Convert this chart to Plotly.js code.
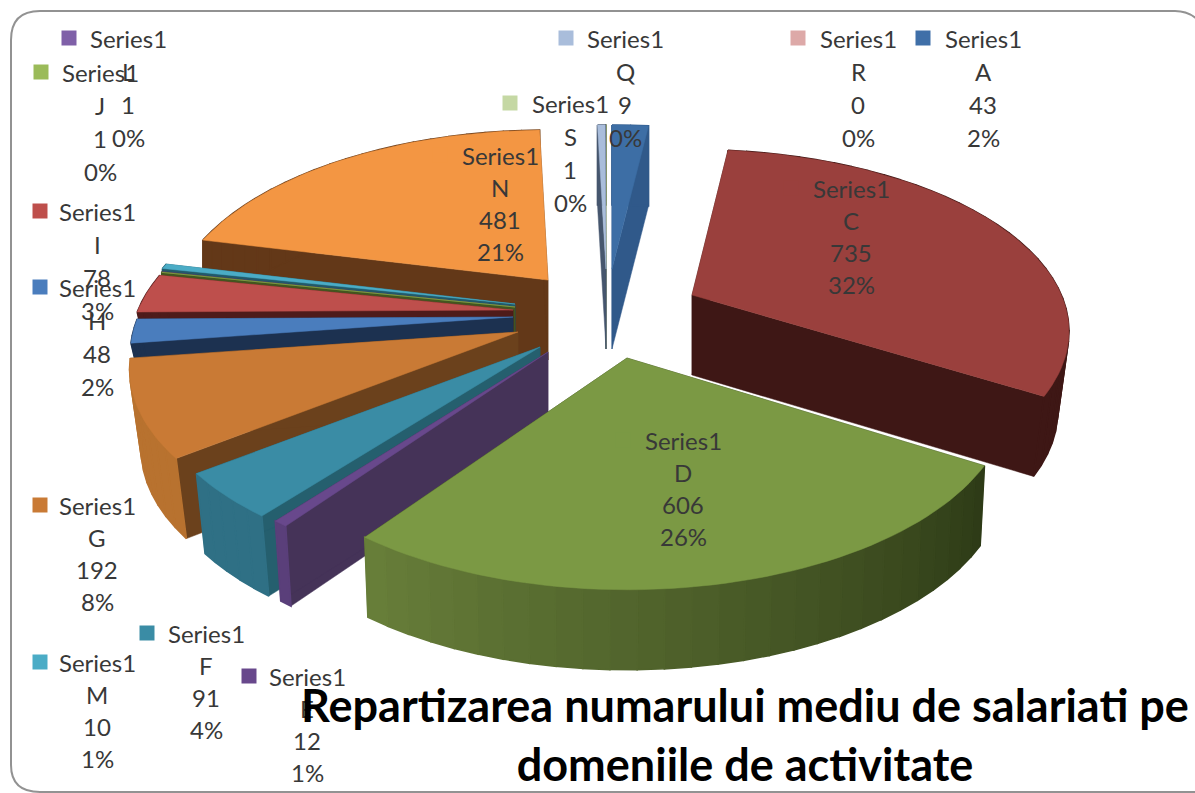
<!DOCTYPE html>
<html>
<head>
<meta charset="utf-8">
<script src="https://cdn.plot.ly/plotly-3.0.1.min.js"></script>
<style>html,body{margin:0;padding:0;background:#fff}#chart{width:1195px;height:793px}</style>
</head>
<body>
<div id="chart"></div>
<script>
// ---- data ----
const seriesName = 'Series1';
const categories = ['A','C','D','E','F','G','H','I','J','L','M','N','Q','R','S'];
const values     = [43,735,606,12,91,192,48,78,1,1,10,481,9,0,1];
const percents   = ['2%','32%','26%','1%','4%','8%','2%','3%','0%','0%','1%','21%','0%','0%','0%'];
const chartTitle = 'Repartizarea numarului mediu de salariati pe<br>domeniile de activitate';

// ---- styles ----
const topColors    = ['#3D6EA5','#9A403D','#7B9944','#68488C','#3A8CA5','#C97A35','#4A7DBD','#BE4F4C','#8FAF4F','#7F60A8','#4BACC6','#F39643','#A9BDDB','#DDA9A8','#C5D8A4'];
const radialColors = ['#30598A','#3E1715','#2F3D17','#453358','#255F6E','#6B411C','#1C3150','#4E1B1A','#43561F','#3A2A52','#215A6A','#633818','#46566E','#6E4544','#5F6E44'];
const rimColorsA   = ['#30598A','#3E1715','#2D3A16','#5A3F7A','#2F7085','#B8722F','#1C3150','#4E1B1A','#43561F','#3A2A52','#215A6A','#633818','#46566E','#6E4544','#5F6E44'];
const rimColorsB   = ['#30598A','#3E1715','#687F3A','#5A3F7A','#2F7085','#B8722F','#1C3150','#4E1B1A','#43561F','#3A2A52','#215A6A','#633818','#46566E','#6E4544','#5F6E44'];
const swatchColors = ['#3F6FA8','#9A403D','#7B9944','#68488C','#3A8CA5','#C97A35','#4A7DBD','#BE4F4C','#9BBB59','#7F60A8','#4BACC6','#F39643','#A9BDDB','#DDA9A8','#C5D8A4'];

// projection of the pie plane
const centre = [605, 312], baseR = 375, baseA = 180, persp = 0.2, depth = 80;
// pull of each slice, px from the pie centre
const pullX = [7,87,22,-57,-65,-87,-92,-92,-90,-90,-90,-57,1,1,1];
const pullY = [-43,-17,46,40,35,20,5,-2,-5,-5,-8,-32,-43,-43,-43];
const radiusScale  = [1,.985,1,1,1.02,1.015,1,1,1,1,1,.99,1,1,1];
const verticalScale= [.96,.97,1.03,1,1,1,1,1,1,1,1,1,.96,.96,.96];
const wallTaper    = [0,.03,.012,.02,.025,.03,.05,.05,0,0,0,0,0,0,0];

// label placement: centre x, first line y, swatch x, swatch y
const labelX = [983,851,683,307,206,97,97,97,100,128,97,500,625,858,570];
const labelY = [38,188,440,676,633,505,287,211,72,38,662,155,38,38,103];
const swatchX = [923,791,623,249,147,40,40,40,41,69,40,440,566,798,510];
const lineGap = [33,32,32,32,32,32,33,33,33,33,32,32,33,33,33];

const total = values.reduce((a,b)=>a+b,0);
let acc = 0;
const slices = values.map((v,i)=>{
  const a0 = acc/total*2*Math.PI; acc += v;
  const a1 = acc/total*2*Math.PI;
  return {i, v, a0, a1, mid:(a0+a1)/2};
}).filter(s=>s.v>0);

function project(s, ang, r, z){
  const u = Math.sin(ang)*r, vv = -Math.cos(ang)*r, w = 1-persp*vv;
  const shrink = 1-wallTaper[s.i]*z/depth;
  return [centre[0]+pullX[s.i]+baseR*radiusScale[s.i]*shrink*u/w,
          centre[1]+pullY[s.i]+baseA*verticalScale[s.i]*vv/w+z];
}
function poly(points, color, lw){
  const xs = points.map(p=>p[0]).concat([points[0][0]]);
  const ys = points.map(p=>p[1]).concat([points[0][1]]);
  return {type:'scatter', mode:'lines', x:xs, y:ys, fill:'toself', fillcolor:color,
          line:{color:color,width:lw}, hoverinfo:'skip', showlegend:false};
}
function hex(c){return [1,3,5].map(i=>parseInt(c.substr(i,2),16));}
function mix(a,b,t){const A=hex(a),B=hex(b);return 'rgb('+A.map((x,i)=>Math.round(x+(B[i]-x)*t)).join(',')+')';}

const traces = [];
slices.slice().sort((p,q)=>(-Math.cos(p.mid))-(-Math.cos(q.mid))).forEach(s=>{
  const i = s.i;
  // side cuts
  [s.a0,s.a1].forEach(a=>{
    traces.push(poly([project(s,a,0,0),project(s,a,1,0),project(s,a,1,depth),project(s,a,0,depth)],radialColors[i],0.5));
  });
  // outer wall
  const segs = Math.max(1,Math.ceil((s.a1-s.a0)/0.06));
  for(let j=0;j<segs;j++){
    const b0=s.a0+(s.a1-s.a0)*j/segs, b1=s.a0+(s.a1-s.a0)*(j+1)/segs;
    traces.push(poly([project(s,b0,1,0),project(s,b1,1,0),project(s,b1,1,depth),project(s,b0,1,depth)],
      mix(rimColorsA[i],rimColorsB[i],(j+.5)/segs),1.6));
  }
  // top face
  const top=[project(s,s.a0,0,0)];
  const n=Math.max(2,Math.ceil((s.a1-s.a0)/0.03));
  for(let j=0;j<=n;j++) top.push(project(s,s.a0+(s.a1-s.a0)*j/n,1,0));
  traces.push(poly(top,topColors[i],0.5));
});

// legend keys beside the data labels
traces.push({type:'scatter',mode:'markers',x:swatchX,y:labelY,hoverinfo:'skip',showlegend:false,
  marker:{symbol:'square',size:15,color:swatchColors,line:{width:0}}});

const annotations=[];
categories.forEach((c,i)=>{
  [seriesName,c,String(values[i]),percents[i]].forEach((t,j)=>{
    annotations.push({xref:'x',yref:'y',x:labelX[i],y:labelY[i]+j*lineGap[i],text:t,showarrow:false,
      xanchor:'center',yanchor:'middle',font:{family:'Lato, sans-serif',size:24,color:'#383838'}});
  });
});

const layout={
  width:1195,height:793,margin:{l:0,r:0,t:0,b:0},paper_bgcolor:'#fff',plot_bgcolor:'#fff',showlegend:false,
  title:{text:chartTitle,x:745/1195,xanchor:'center',xref:'paper',y:1-722/793,yanchor:'top',yref:'paper',
    font:{family:'Lato, sans-serif',size:45,weight:700,color:'#000'}},
  xaxis:{range:[0,1195],visible:false,fixedrange:true},
  yaxis:{range:[793,0],visible:false,fixedrange:true},
  annotations,
  shapes:[{type:'path',xref:'x',yref:'y',layer:'below',
    path:'M 11 40 Q 11 11 40 11 L 1175 11 Q 1190 11 1200 22 L 1200 792 L 40 792 Q 11 792 11 765 Z',
    line:{color:'#929292',width:2},fillcolor:'#ffffff'}]
};
Plotly.newPlot('chart',traces,layout,{displayModeBar:false,staticPlot:true}).then(gd=>{
  // the title sits over the data labels
  const info = gd.querySelector('.infolayer'), t = gd.querySelector('.infolayer .g-gtitle');
  if(info && t) info.appendChild(t);
});
</script>
</body>
</html>
